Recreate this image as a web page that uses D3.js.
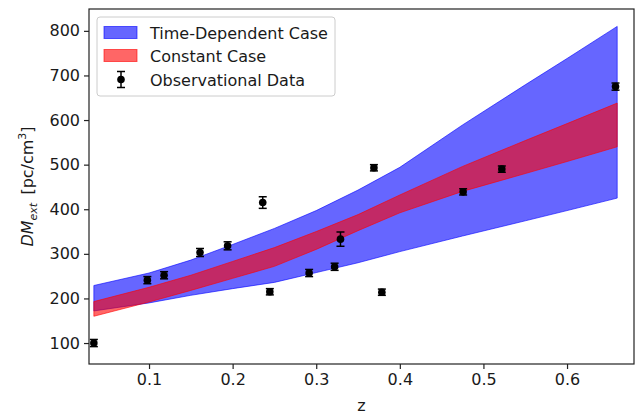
<!DOCTYPE html>
<html>
<head>
    <meta charset="utf-8">
    <script src="https://d3js.org/d3.v7.min.js"></script>
    <title>DM_ext vs z</title>
    <style>
        body { margin: 0; background: #fff; }
        svg { display: block; font-family: "DejaVu Sans", sans-serif; }
        .tick-label { font-size: 16px; fill: #1a1a1a; }
        .legend-text { font-size: 16px; fill: #1a1a1a; }
    </style>
</head>
<body>
    <svg width="637" height="414"></svg>

    <script>
        // model bands
        const bandZ      = [0.034, 0.10, 0.15, 0.20, 0.25, 0.30, 0.35, 0.40, 0.475, 0.55, 0.60, 0.66];
        const timeDepHi  = [229, 257, 286, 321, 357, 397, 443, 494, 589, 679, 738, 810];
        const timeDepLo  = [172, 190, 207, 222, 236, 258, 280, 305, 340, 374, 397, 425];
        const constHi    = [193, 225, 252, 283, 314, 350, 388, 432, 496, 554, 592, 638];
        const constLo    = [160, 192, 218, 245, 272, 310, 352, 392, 440, 480, 507, 540];

        // observational data
        const obsZ   = [0.034, 0.098, 0.118, 0.161, 0.194, 0.236, 0.2445, 0.2915, 0.322, 0.329, 0.369, 0.3785, 0.4757, 0.522, 0.658];
        const obsDM  = [100, 241, 252, 303, 318, 415, 215, 257, 271, 333, 493, 214, 439, 490, 675];
        const obsErr = [8, 8, 8, 9, 9, 13, 7, 8, 8, 16, 7, 7, 7, 7, 8];

        const xTicks = [0.1, 0.2, 0.3, 0.4, 0.5, 0.6];
        const yTicks = [100, 200, 300, 400, 500, 600, 700, 800];

        const width = 637, height = 414;
        const margin = { top: 9, right: 3, bottom: 50, left: 89 };

        const svg = d3.select("svg");

        const x = d3.scaleLinear().domain([0.0282, 0.6801]).range([margin.left, width - margin.right]);
        const y = d3.scaleLinear().domain([53, 849]).range([height - margin.bottom, margin.top]);

        svg.append("clipPath").attr("id", "plot-clip")
            .append("rect")
            .attr("x", margin.left).attr("y", margin.top)
            .attr("width", width - margin.left - margin.right)
            .attr("height", height - margin.top - margin.bottom);

        const plot = svg.append("g").attr("clip-path", "url(#plot-clip)");

        // Bands
        const bands = [
            { lo: timeDepLo, hi: timeDepHi, color: "blue" },
            { lo: constLo, hi: constHi, color: "red" }
        ];

        const area = d3.area()
            .x(d => x(d.z))
            .y0(d => y(d.lo))
            .y1(d => y(d.hi));

        bands.forEach(b => {
            const rows = bandZ.map((z, i) => ({ z: z, lo: b.lo[i], hi: b.hi[i] }));
            plot.append("path")
                .datum(rows)
                .attr("d", area)
                .attr("fill", b.color)
                .attr("fill-opacity", 0.6)
                .attr("stroke", b.color)
                .attr("stroke-opacity", 0.6)
                .attr("stroke-width", 1);
        });

        // Error bars + markers
        const obs = obsZ.map((z, i) => ({ z: z, dm: obsDM[i], err: obsErr[i] }));
        const cap = 4;

        const pts = plot.append("g").selectAll("g")
            .data(obs)
            .enter().append("g");

        pts.append("line")
            .attr("x1", d => x(d.z)).attr("x2", d => x(d.z))
            .attr("y1", d => y(d.dm - d.err)).attr("y2", d => y(d.dm + d.err))
            .attr("stroke", "black").attr("stroke-width", 1.5);

        pts.append("line")
            .attr("x1", d => x(d.z) - cap).attr("x2", d => x(d.z) + cap)
            .attr("y1", d => y(d.dm + d.err)).attr("y2", d => y(d.dm + d.err))
            .attr("stroke", "black").attr("stroke-width", 1.5);

        pts.append("line")
            .attr("x1", d => x(d.z) - cap).attr("x2", d => x(d.z) + cap)
            .attr("y1", d => y(d.dm - d.err)).attr("y2", d => y(d.dm - d.err))
            .attr("stroke", "black").attr("stroke-width", 1.5);

        pts.append("circle")
            .attr("cx", d => x(d.z))
            .attr("cy", d => y(d.dm))
            .attr("r", 3.8)
            .attr("fill", "black");

        // Axes frame
        svg.append("rect")
            .attr("x", margin.left).attr("y", margin.top)
            .attr("width", width - margin.left - margin.right)
            .attr("height", height - margin.top - margin.bottom)
            .attr("fill", "none")
            .attr("stroke", "#222")
            .attr("stroke-width", 1.2);

        const xAxis = svg.append("g")
            .attr("transform", `translate(0,${height - margin.bottom})`)
            .call(d3.axisBottom(x).tickValues(xTicks).tickFormat(d3.format(".1f")).tickSize(5).tickPadding(5));

        const yAxis = svg.append("g")
            .attr("transform", `translate(${margin.left},0)`)
            .call(d3.axisLeft(y).tickValues(yTicks).tickSize(5).tickPadding(4));

        [xAxis, yAxis].forEach(a => {
            a.select(".domain").remove();
            a.selectAll(".tick line").attr("stroke", "#222").attr("stroke-width", 1.2);
            a.selectAll(".tick text")
                .attr("class", "tick-label")
                .attr("fill", "#1a1a1a")
                .style("font-family", "DejaVu Sans")
                .style("font-size", "16px");
        });

        // Axis labels
        svg.append("text")
            .attr("x", (margin.left + width - margin.right) / 2)
            .attr("y", 411)
            .attr("text-anchor", "middle")
            .attr("class", "tick-label")
            .text("z");

        const ylab = svg.append("text")
            .attr("transform", `translate(33,${(margin.top + height - margin.bottom) / 2}) rotate(-90)`)
            .attr("text-anchor", "middle")
            .attr("class", "tick-label");
        ylab.append("tspan").attr("font-style", "italic").text("DM");
        ylab.append("tspan").attr("font-style", "italic").attr("font-size", "11px").attr("dy", 4).text("ext");
        ylab.append("tspan").attr("dy", -4).text("\u2009 [pc/cm");
        ylab.append("tspan").attr("font-size", "11px").attr("dy", -7).text("3");
        ylab.append("tspan").attr("dy", 7).text("]");

        // Legend
        const legend = svg.append("g");
        legend.append("rect")
            .attr("x", 97).attr("y", 17)
            .attr("width", 238).attr("height", 79)
            .attr("rx", 3)
            .attr("fill", "white").attr("fill-opacity", 0.8)
            .attr("stroke", "#cccccc");

        const legendItems = [
            { label: "Time-Dependent Case", color: "blue", cy: 32.5 },
            { label: "Constant Case", color: "red", cy: 55.5 },
            { label: "Observational Data", color: null, cy: 79.5 }
        ];

        legendItems.forEach(it => {
            if (it.color) {
                legend.append("rect")
                    .attr("x", 104).attr("y", it.cy - 6)
                    .attr("width", 33).attr("height", 12)
                    .attr("fill", it.color).attr("fill-opacity", 0.6)
                    .attr("stroke", it.color).attr("stroke-opacity", 0.6);
            } else {
                const cx = 121;
                legend.append("line").attr("x1", cx).attr("x2", cx)
                    .attr("y1", it.cy - 8).attr("y2", it.cy + 8)
                    .attr("stroke", "black").attr("stroke-width", 1.5);
                legend.append("line").attr("x1", cx - cap).attr("x2", cx + cap)
                    .attr("y1", it.cy - 8).attr("y2", it.cy - 8)
                    .attr("stroke", "black").attr("stroke-width", 1.5);
                legend.append("line").attr("x1", cx - cap).attr("x2", cx + cap)
                    .attr("y1", it.cy + 8).attr("y2", it.cy + 8)
                    .attr("stroke", "black").attr("stroke-width", 1.5);
                legend.append("circle").attr("cx", cx).attr("cy", it.cy).attr("r", 3.8).attr("fill", "black");
            }
            legend.append("text")
                .attr("x", 150).attr("y", it.cy + 6)
                .attr("class", "legend-text")
                .text(it.label);
        });
    </script>
</body>
</html>
